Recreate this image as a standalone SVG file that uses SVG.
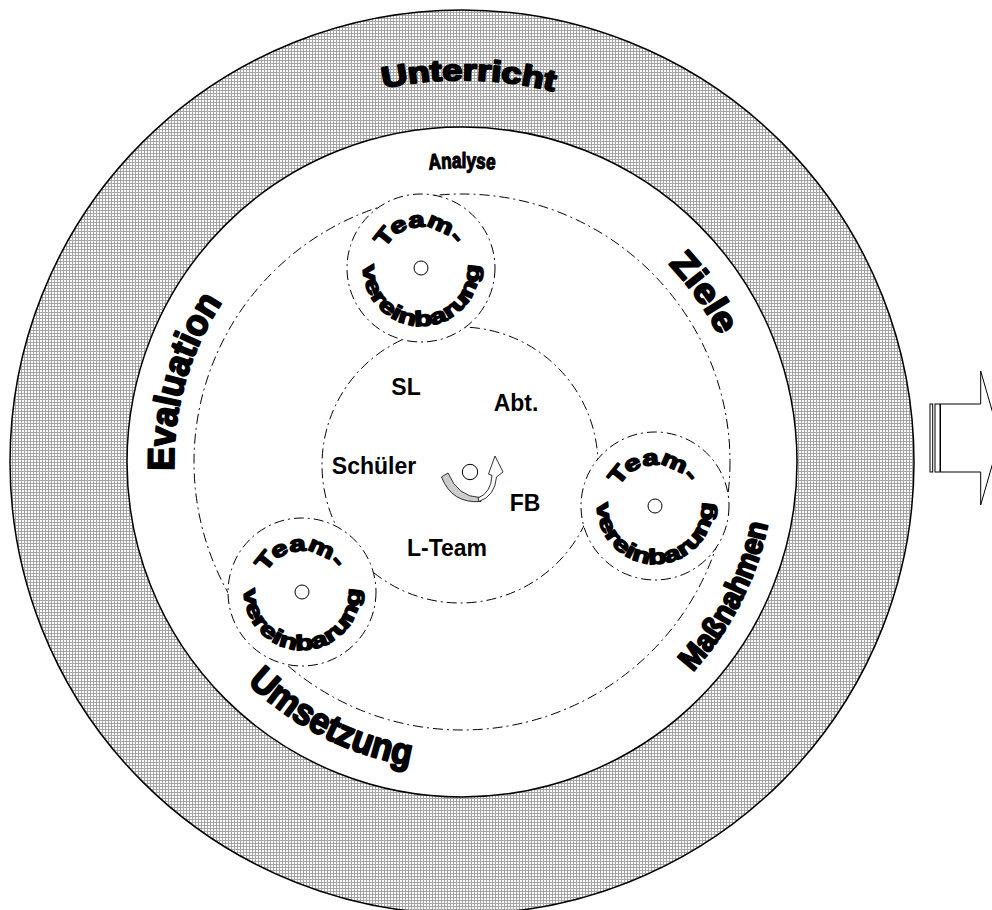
<svg xmlns="http://www.w3.org/2000/svg" xmlns:xlink="http://www.w3.org/1999/xlink" width="992" height="910" viewBox="0 0 992 910">
<defs>
<pattern id="hatch" patternUnits="userSpaceOnUse" width="3" height="3">
<rect width="3" height="3" fill="#ffffff"/>
<rect width="3" height="1" fill="#a4a4a4"/>
<rect width="1" height="3" fill="#a4a4a4"/>
</pattern>
<path id="pUnterricht" d="M276.8,127.9 A382,382 0 0 1 658.7,134.6"/>
<path id="pAnalyse" d="M385.9,178 A294,294 0 0 1 538.1,178"/>
<path id="pEvaluation" d="M177.5,507.1 A288,288 0 0 1 244.6,273.1"/>
<path id="pZiele" d="M605,214.3 A286,286 0 0 1 743.7,412.3"/>
<path id="pMassnahmen" d="M655,707 A312,312 0 0 0 774,473"/>
<path id="pUmsetzung" d="M219.3,651.6 A308,308 0 0 0 451.3,769.8"/>
<path id="pTeamTop" d="M-37.16,-17.33 A41,41 0 0 1 35.14,-21.12"/>
<path id="pTeamBot" d="M-57.12,-10.07 A58,58 0 1 0 57.12,-10.07"/>
</defs>
<style>
.dd{fill:none;stroke:#000;stroke-width:1;stroke-dasharray:10 4 2 4}
.team{fill:#fff;stroke:#000;stroke-width:1;stroke-dasharray:10 4 2 4}
.dot{fill:#fff;stroke:#000;stroke-width:1}
.big{font-family:"Liberation Sans",Arial,sans-serif;font-weight:bold;fill:#000;stroke:#000;stroke-width:2;stroke-linejoin:round}
.tm{font-family:"Liberation Sans",Arial,sans-serif;font-weight:bold;font-size:22px;fill:#000;stroke:#000;stroke-width:1.5;stroke-linejoin:round}
.lbl{font-family:"Liberation Sans",Arial,sans-serif;font-weight:bold;font-size:23px;fill:#000;text-anchor:middle}
.ol{stroke:#000;stroke-width:1.5}
</style>
<g id="ring">
<circle cx="462" cy="462" r="452" fill="url(#hatch)" class="ol"/>
<circle cx="462" cy="462" r="335" fill="#fff" class="ol"/>
</g>
<g id="connectors">
<circle class="dd" cx="462" cy="462" r="268"/>
<circle class="dd" cx="460" cy="465" r="138"/>
</g>
<g id="ring-labels">
<text class="big" font-size="29"><textPath xlink:href="#pUnterricht" href="#pUnterricht" startOffset="50%" text-anchor="middle" textLength="172" lengthAdjust="spacingAndGlyphs">Unterricht</textPath></text>
<text class="big" font-size="22" style="stroke-width:1.2"><textPath xlink:href="#pAnalyse" href="#pAnalyse" startOffset="50%" text-anchor="middle" textLength="66" lengthAdjust="spacingAndGlyphs">Analyse</textPath></text>
<text class="big" font-size="37"><textPath xlink:href="#pEvaluation" href="#pEvaluation" startOffset="50%" text-anchor="middle" textLength="178" lengthAdjust="spacingAndGlyphs">Evaluation</textPath></text>
<text class="big" font-size="35"><textPath xlink:href="#pZiele" href="#pZiele" startOffset="50%" text-anchor="middle" textLength="88" lengthAdjust="spacingAndGlyphs">Ziele</textPath></text>
<text class="big" font-size="31"><textPath xlink:href="#pMassnahmen" href="#pMassnahmen" startOffset="50%" text-anchor="middle" textLength="168" lengthAdjust="spacingAndGlyphs">Maßnahmen</textPath></text>
<text class="big" font-size="37"><textPath xlink:href="#pUmsetzung" href="#pUmsetzung" startOffset="50%" text-anchor="middle" textLength="185" lengthAdjust="spacingAndGlyphs">Umsetzung</textPath></text>
</g>
<g id="team-top" transform="translate(421,268)">
<circle class="team" r="74"/>
<circle class="dot" r="7"/>
<text class="tm"><textPath xlink:href="#pTeamTop" href="#pTeamTop" startOffset="50%" text-anchor="middle" textLength="84" lengthAdjust="spacingAndGlyphs">Team-</textPath></text>
<text class="tm" style="font-size:21px"><textPath xlink:href="#pTeamBot" href="#pTeamBot" startOffset="50%" text-anchor="middle" textLength="188" lengthAdjust="spacingAndGlyphs">vereinbarung</textPath></text>
</g>
<g id="team-right" transform="translate(655,506)">
<circle class="team" r="74"/>
<circle class="dot" r="7"/>
<text class="tm"><textPath xlink:href="#pTeamTop" href="#pTeamTop" startOffset="50%" text-anchor="middle" textLength="84" lengthAdjust="spacingAndGlyphs">Team-</textPath></text>
<text class="tm" style="font-size:21px"><textPath xlink:href="#pTeamBot" href="#pTeamBot" startOffset="50%" text-anchor="middle" textLength="188" lengthAdjust="spacingAndGlyphs">vereinbarung</textPath></text>
</g>
<g id="team-left" transform="translate(302,592)">
<circle class="team" r="74"/>
<circle class="dot" r="7"/>
<text class="tm"><textPath xlink:href="#pTeamTop" href="#pTeamTop" startOffset="50%" text-anchor="middle" textLength="84" lengthAdjust="spacingAndGlyphs">Team-</textPath></text>
<text class="tm" style="font-size:21px"><textPath xlink:href="#pTeamBot" href="#pTeamBot" startOffset="50%" text-anchor="middle" textLength="188" lengthAdjust="spacingAndGlyphs">vereinbarung</textPath></text>
</g>
<g id="center">
<text class="lbl" x="406" y="395">SL</text>
<text class="lbl" x="516" y="411">Abt.</text>
<text class="lbl" x="374" y="474">Schüler</text>
<text class="lbl" x="525" y="511">FB</text>
<text class="lbl" x="447" y="556">L-Team</text>
<circle class="dot" cx="470" cy="472" r="7.7"/>
<path d="M441.5,477 Q452,504 481,501.5 L480,497.5 Q458,497 448,473 Z" fill="#cccccc" stroke="#000" stroke-width="0.8"/>
<path d="M479,501.5 Q495,496 496.5,477 L503,472 L495,456 L488.5,474 L492,475.5 Q491,493 478,498 Z" fill="#fff" stroke="#000" stroke-width="0.8"/>
</g>
<g id="arrow-out" fill="#fff" stroke="#000" stroke-width="1">
<rect x="930" y="404" width="2.7" height="68"/>
<rect x="935" y="404" width="5" height="68"/>
<path d="M940.5,404 L980.7,404 L980.7,371 L1000,438 L980.7,505 L980.7,472 L940.5,472 Z"/>
</g>
</svg>
